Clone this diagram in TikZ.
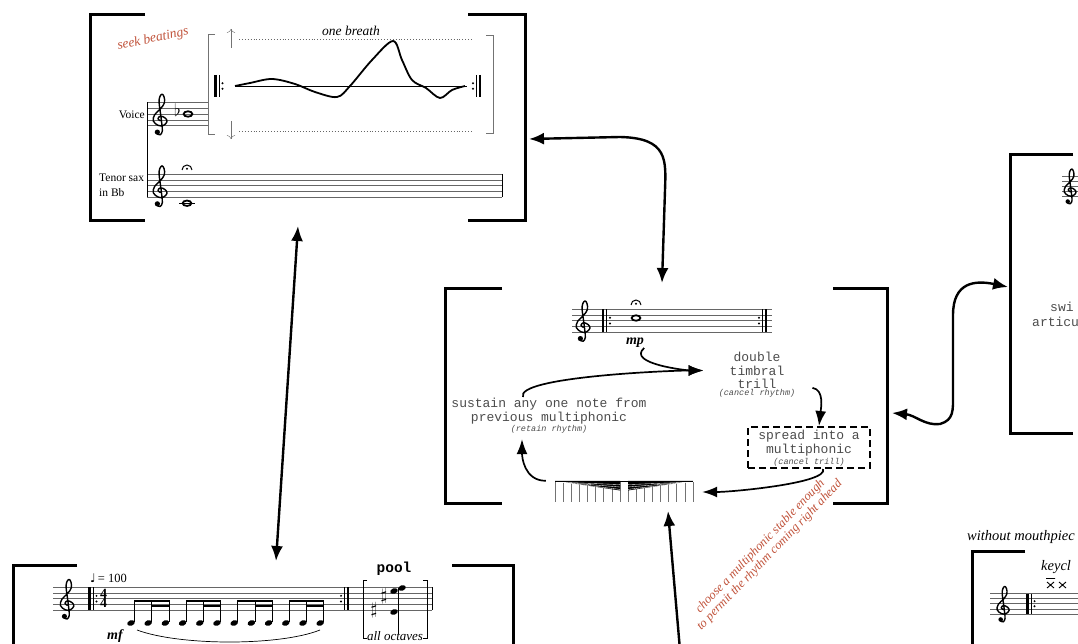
\documentclass[tikz,border=0pt]{standalone}
\usepackage{fontspec}
\setmainfont{Liberation Serif}
\setmonofont{Liberation Mono}
\newfontfamily\notefont{DejaVu Sans}
\usetikzlibrary{arrows.meta}

\definecolor{rust}{RGB}{192,82,58}
\definecolor{ink}{gray}{0.3}

\tikzstyle{bracket}=[line width=3pt]
\tikzstyle{staffline}=[draw=black!60,line width=0.6pt]
\tikzstyle{stem}=[line width=0.7pt]
\tikzstyle{link}=[line width=2.4pt,{Latex[length=15pt,width=12pt]}-{Latex[length=15pt,width=12pt]}]
\tikzstyle{flow}=[line width=1.7pt,-{Latex[length=15pt,width=11pt]}]
\tikzstyle{cue}=[font=\ttfamily\fontsize{13}{13.5}\selectfont,text=ink,align=center,inner sep=1pt]
\tikzstyle{hint}=[font=\ttfamily\itshape\fontsize{8.5}{9}\selectfont,text=ink,inner sep=1pt]
\tikzstyle{remark}=[font=\itshape\fontsize{12.5}{13}\selectfont,text=rust,align=center]
\tikzstyle{dyn}=[font=\bfseries\itshape\fontsize{14}{14}\selectfont,inner sep=0pt]

% glyphs, in staff spaces (y runs down the page)
\tikzset{
  gclef/.pic={
    \draw[line width=1.4pt,line cap=round,line join=round] plot[smooth,tension=0.6] coordinates {
      (0.05,0.15) (-0.35,-0.2) (0.1,-0.65) (0.9,-0.3) (1.2,0.3) (0.6,0.95) (-0.3,0.95)
      (-1.15,0.2) (-0.9,-0.9) (0.1,-1.9) (0.75,-2.9) (0.7,-3.9) (0.35,-4.4) (-0.05,-3.9)
      (-0.15,-2.9) (0.1,-1.0) (0.3,0.6) (0.4,1.9) (0.05,2.55) (-0.45,2.4)};
    \fill (-0.45,2.1) circle (0.45);
  },
  fermata/.pic={
    \draw[line width=1pt] (-5,0) arc[start angle=180,end angle=360,radius=5];
    \fill (0,-1.3) circle (1.1);
  },
  whole/.pic={\draw[line width=1.8pt] (0,0) ellipse [x radius=4.4,y radius=2.7];}
}

% five lines: x from, x to, top line, gap
\newcommand{\fivelines}[4]{\foreach \k in {0,...,4} \draw[staffline] (#1,#3+\k*#4) -- (#2,#3+\k*#4);}
% repeat signs: x, top line, gap
\newcommand{\openrep}[3]{%
  \draw[line width=2.4pt] (#1,#2) -- (#1,#2+4*#3);
  \draw[line width=0.7pt] (#1+3.5,#2) -- (#1+3.5,#2+4*#3);
  \fill (#1+7,#2+1.5*#3) circle (1.1) (#1+7,#2+2.5*#3) circle (1.1);}
\newcommand{\closerep}[3]{%
  \fill (#1,#2+1.5*#3) circle (1.1) (#1,#2+2.5*#3) circle (1.1);
  \draw[line width=0.7pt] (#1+3.5,#2) -- (#1+3.5,#2+4*#3);
  \draw[line width=2.4pt] (#1+7,#2) -- (#1+7,#2+4*#3);}

\begin{document}
\begin{tikzpicture}[x=1pt,y=-1pt]
\useasboundingbox (0,0) rectangle (1078,644);

% Breath box
\draw[bracket] (145,15) -- (90,15) -- (90,221) -- (145,221);
\draw[bracket] (468,15) -- (525,15) -- (525,221) -- (468,221);
\coordinate (bx1s) at (298,226);
\coordinate (bx1e) at (529,139);

\node[remark,font=\itshape\fontsize{13.5}{13.5}\selectfont,rotate=12] (seek) at (153,39) {seek beatings};
\node[font=\itshape\fontsize{13.5}{13.5}\selectfont] (breath) at (351,31) {one breath};

\draw[black!55,line width=1pt] (215,35) -- (208,35) -- (208,135) -- (215,135);
\draw[black!55,line width=1pt] (486,36) -- (493,36) -- (493,134) -- (486,134);
\draw[black!55,-{To[length=4pt]}] (231,48) -- (231,29);
\draw[black!55,-{To[length=4pt]}] (231,121) -- (231,139);
\draw[black!60,dotted,line width=0.9pt] (239,39) -- (473,39);
\draw[black!60,dotted,line width=0.9pt] (239,131) -- (473,131);

\openrep{215.5}{75}{5.5}
\closerep{473}{75}{5.5}
\draw[line width=0.6pt] (235,86) -- (467,86);
\draw[line width=1.8pt] plot[smooth,tension=0.55] coordinates {(235,86) (250,83) (272,79) (295,84)
  (315,92) (337,97) (350,86) (372,60) (393,41) (402,60) (412,80) (426,88) (440,98)
  (452,90) (465,86)};

\node[anchor=east,font=\fontsize{11.5}{11.5}\selectfont,inner sep=1pt] (voice) at (146,115) {Voice};
\node[anchor=west,align=left,font=\fontsize{11.5}{14.5}\selectfont,inner sep=1pt] (tenor) at (98,185.5) {Tenor sax\\in Bb};
\fivelines{147}{208}{102.3}{5.85}
\fivelines{147}{502}{174}{5.85}
\draw[line width=0.7pt] (147,102.3) -- (147,197.4);
\draw[line width=0.7pt] (502,174) -- (502,197.4);
\pic[scale=5.85] at (160,119.85) {gclef};
\pic[scale=5.85] at (160,191.55) {gclef};
\node[font=\fontsize{17}{17}\selectfont,inner sep=0pt] (vflat) at (177.5,110.5) {$\flat$};
\pic at (188,114) {whole};
\pic at (187,170) {fermata};
\draw[line width=0.8pt] (179,203.25) -- (195,203.25);
\pic at (187,203.25) {whole};

% Loop box
\draw[bracket] (502,288) -- (445,288) -- (445,503) -- (502,503);
\draw[bracket] (833,288) -- (887,288) -- (887,503) -- (833,503);
\coordinate (bx2n) at (662,283);
\coordinate (bx2e) at (892,413);
\coordinate (bx2s) at (668,511);

\fivelines{572}{772}{309}{5.8}
\pic[scale=5.8] at (583,326.4) {gclef};
\openrep{603}{309}{5.8}
\closerep{759}{309}{5.8}
\pic at (636,305) {fermata};
\pic at (636,318) {whole};
\node[dyn] (mpmark) at (635,343) {mp};

\node[cue] (dtt) at (757,370.5) {double\\timbral\\trill};
\node[hint] (dttnote) at (757,393) {(cancel rhythm)};
\node[cue] (sus) at (549,411) {sustain any one note from\\previous multiphonic};
\node[hint] (susnote) at (549,429) {(retain rhythm)};
\node[draw=black,line width=2pt,dash pattern=on 7pt off 4pt,minimum width=122pt,minimum height=41pt] (spread) at (809,447.5) {};
\node[cue] (spreadtxt) at (809,443) {spread into a\\multiphonic};
\node[hint] (spreadnote) at (809,462) {(cancel trill)};

% feathered beams
\node[minimum width=156pt,minimum height=22pt,inner sep=0pt] (fan) at (624,492) {};
\foreach \i in {0,...,8} {
  \draw[stem,black!55] (555+8.125*\i,482) -- (555+8.125*\i,502);
  \draw[stem,black!55] (628+8.125*\i,482) -- (628+8.125*\i,502);
}
\fill (555,480.8) -- (620,480.8) -- (620,490.5) -- cycle;
\fill (628,480.8) -- (693,480.8) -- (628,490.5) -- cycle;
\draw[line width=1.4pt] (555,481.5) -- (693,481.5);
\foreach \k in {1,...,3} {
  \draw[white,line width=0.35pt] (560,482.2) -- (620,482.2+2.4*\k);
  \draw[white,line width=0.35pt] (628,482.2+2.4*\k) -- (688,482.2);
}

\draw[flow,shorten >=25pt] (mpmark.south east) .. controls +(-18,16) and +(-40,0) .. (dtt.west);
\draw[flow,shorten >=25pt] ([xshift=-26pt]sus.north) .. controls +(-8,-20) and +(-60,0) .. (dtt.west);
\draw[flow] ([xshift=16pt]dttnote.north east) .. controls +(12,2) and +(2,-18) .. ([xshift=10pt]spread.north);
\draw[flow] ([xshift=14pt]spread.south) .. controls +(6,14) and +(30,0) .. (fan.east);
\draw[flow,shorten >=5pt] (fan.north west) .. controls +(-22,0) and +(0,22) .. ([xshift=-27pt]susnote.south);

\node[remark,rotate=46] (choose) at (765,551) {choose a multiphonic stable enough\\to permit the rhythm coming right ahead};

% Articulation box
\draw[bracket] (1073,155) -- (1010,155) -- (1010,433) -- (1073,433);
\coordinate (bx3w) at (1008,287);
\fivelines{1062}{1078}{176}{5}
\pic[scale=5] at (1070,191) {gclef};
\node[cue,anchor=west] (swi) at (1049,307) {swi};
\node[cue,anchor=west] (articu) at (1031,322) {articu};

% Keyclick box
\node[font=\itshape\fontsize{14.5}{14.5}\selectfont,anchor=west,inner sep=0pt] (nomouth) at (967,537) {without mouthpiec};
\draw[bracket] (1025,551) -- (972,551) -- (972,650);
\node[font=\itshape\fontsize{14.5}{14.5}\selectfont,anchor=west,inner sep=0pt] (keycl) at (1041,567) {keycl};
\fivelines{990}{1078}{593.5}{5.1}
\pic[scale=5.1] at (1003,608.8) {gclef};
\openrep{1027.5}{593.5}{5.1}
\draw[line width=0.9pt] (1047,582) -- (1054,588) (1047,588) -- (1054,582) (1046,578.5) -- (1055,578.5);
\draw[line width=0.9pt] (1059,582) -- (1066,588) (1059,588) -- (1066,582);

% Pulse box
\draw[bracket] (77,565) -- (13,565) -- (13,650);
\draw[bracket] (452,565) -- (513,565) -- (513,650);
\coordinate (bx5n) at (276,561);
\fivelines{53}{432}{587.3}{5.7}
\draw[line width=0.7pt] (432,587.3) -- (432,610.1);
\pic[scale=5.7] at (67,604.4) {gclef};
\node[anchor=west,inner sep=0pt,font=\fontsize{12.5}{12.5}\selectfont] (tempo) at (90,578) {{\notefont\fontsize{12}{12}\selectfont ♩}\,= 100};
\openrep{89.5}{587.3}{5.7}
\node[font=\bfseries\fontsize{14}{14}\selectfont,inner sep=0pt] (metre) at (103.5,598.7) {\shortstack{4\\[-3.5pt]4}};
\foreach \i [evaluate=\i as \nx using 131+17.2*\i] in {0,...,11} {
  \fill[rotate around={20:(\nx,623)}] (\nx,623) ellipse [x radius=3.9,y radius=2.7];
  \draw[stem] (\nx+3.5,622) -- (\nx+3.5,600);
}
\foreach \g [evaluate=\g as \gx using 134.5+51.6*\g] in {0,...,3} {
  \draw[line width=2.6pt] (\gx-0.3,601) -- (\gx+34.7,601);
  \draw[line width=2.6pt] (\gx+17.2,606) -- (\gx+34.7,606);
}
\draw[line width=0.7pt] (137,630) .. controls (180,646) and (280,646) .. (320,630);
\node[dyn] (mfmark) at (115,636) {mf};
\closerep{341}{587.3}{5.7}

\draw[line width=0.9pt] (367,580) -- (363,580) -- (363,638) -- (367,638);
\draw[line width=0.9pt] (423,580) -- (427,580) -- (427,638) -- (423,638);
\node[font=\ttfamily\bfseries\fontsize{14.5}{14.5}\selectfont] (pool) at (394,569) {pool};
\node[font=\fontsize{16}{16}\selectfont,inner sep=0pt] (sharpa) at (384,596) {$\sharp$};
\node[font=\fontsize{16}{16}\selectfont,inner sep=0pt] (sharpb) at (374,610) {$\sharp$};
\fill[rotate around={20:(394,591)}] (394,591) ellipse [x radius=3.9,y radius=2.7];
\fill[rotate around={20:(402,588)}] (402,588) ellipse [x radius=3.9,y radius=2.7];
\fill[rotate around={20:(394,612)}] (394,612) ellipse [x radius=3.9,y radius=2.7];
\draw[stem] (398,588) -- (398,634);
\node[font=\itshape\fontsize{13}{13}\selectfont,inner sep=0pt] (octaves) at (395,636) {all octaves};

% connectors between boxes
\draw[link] (bx1s) -- (bx5n);
\draw[link] (bx1e) -- (620,137) .. controls (668,138) and (666,160) .. (665,190) -- (bx2n);
\draw[link] (bx2e) .. controls (915,415) and (925,426) .. (940,424) .. controls (954,420) and (953,410) .. (953,395)
  -- (953,315) .. controls (953,282) and (975,280) .. (bx3w);
\coordinate (offpage) at (680,650);
\draw[line width=2.4pt,-{Latex[length=15pt,width=12pt]}] (offpage) -- (bx2s);

\end{tikzpicture}
\end{document}
